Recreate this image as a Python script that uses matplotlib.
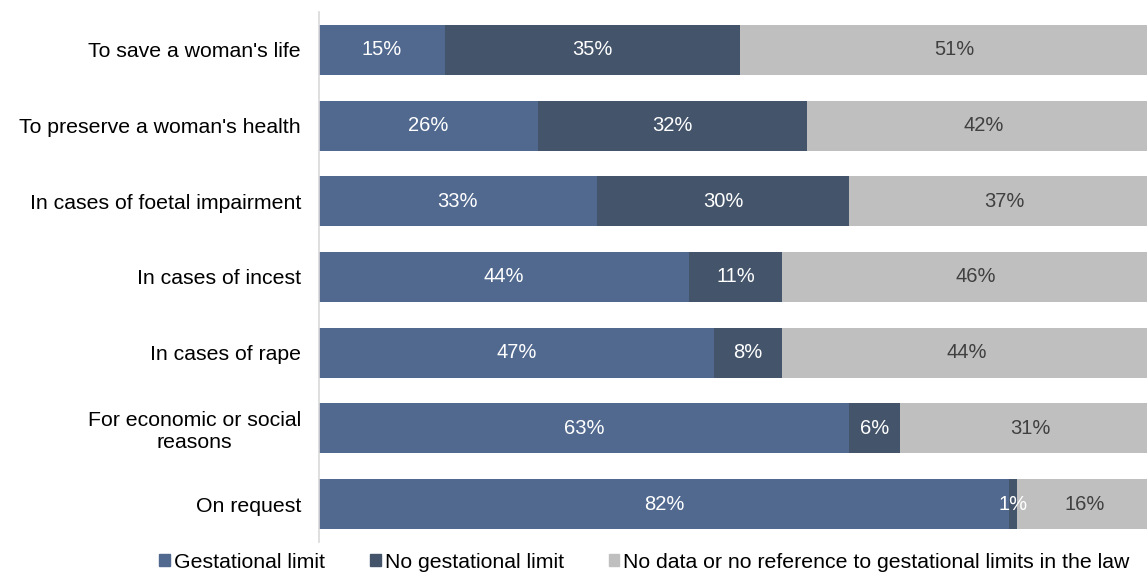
import numpy as np
import matplotlib.pyplot as plt
from matplotlib.patches import Patch

plt.rcParams['font.family'] = ['Liberation Sans', 'DejaVu Sans']

categories = ["To save a woman's life", "To preserve a woman's health",
              "In cases of foetal impairment", "In cases of incest",
              "In cases of rape", "For economic or social\nreasons", "On request"]
gestational = [15, 26, 33, 44, 47, 63, 82]
no_limit = [35, 32, 30, 11, 8, 6, 1]
no_data = [51, 42, 37, 46, 44, 31, 16]

series = [
    ('Gestational limit', gestational, '#51698f', 'white'),
    ('No gestational limit', no_limit, '#44546a', 'white'),
    ('No data or no reference to gestational limits in the law', no_data, '#bfbfbf', '#404040'),
]

fig = plt.figure(figsize=(11.47, 5.73), dpi=100)
ax = fig.add_axes([319 / 1147, 31 / 573, 828 / 1147, 530 / 573])

y = np.arange(len(categories))
left = np.zeros(len(categories))
for name, vals, color, tcolor in series:
    vals = np.array(vals, dtype=float)
    ax.barh(y, vals, left=left, height=0.66, color=color, label=name)
    for yi, l, v in zip(y, left, vals):
        ax.text(l + v / 2, yi, f'{int(v)}%', ha='center', va='center',
                color=tcolor, fontsize=14.5)
    left += vals

# chart in the source is slightly cropped on the right
ax.set_xlim(0, 98.4)
ax.set_ylim(len(categories) - 0.5, -0.5)
ax.set_yticks(y)
ax.set_yticklabels(categories, fontsize=15.3)
ax.tick_params(axis='y', length=0, pad=13)
ax.set_xticks([])
for s in ['top', 'right', 'bottom']:
    ax.spines[s].set_visible(False)
ax.spines['left'].set_color('#d9d9d9')
ax.spines['left'].set_linewidth(1.2)
for lab in ax.get_yticklabels():
    lab.set_horizontalalignment('right')
    lab.set_multialignment('center')

handles = [Patch(color=c) for _, _, c, _ in series]
fig.legend(handles, [s[0] for s in series], loc='center', bbox_to_anchor=(0.562, 11 / 573),
           ncol=3, frameon=False, fontsize=15.3, handlelength=0.5, handleheight=0.5,
           handletextpad=0.2, columnspacing=2.1)

fig.savefig('out.png', dpi=100)
